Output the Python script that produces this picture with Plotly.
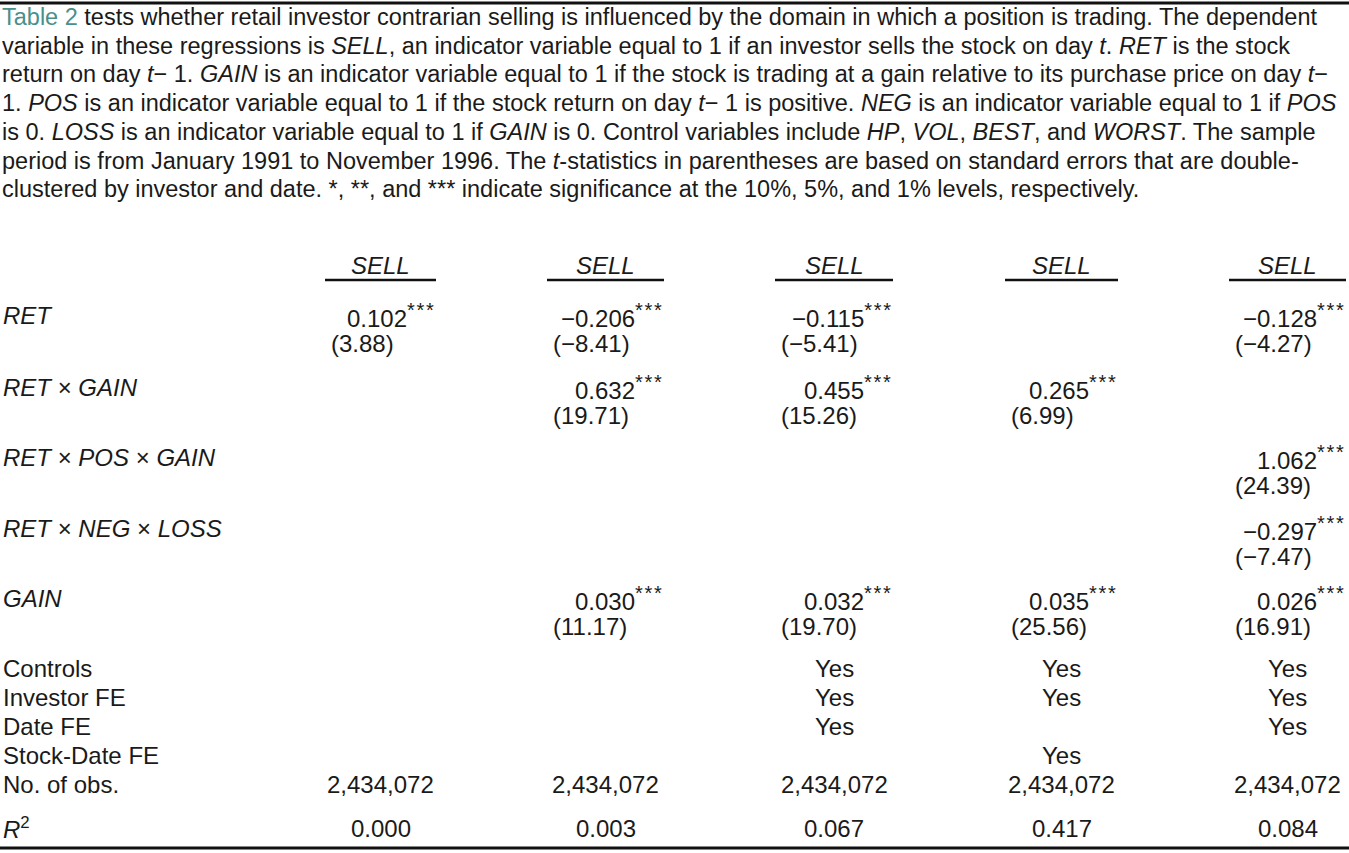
import plotly.graph_objects as go

W, H = 1349, 853
FONT = "Liberation Sans, Arial, sans-serif"
TEXT_COLOR = "#1a1a1a"
MINUS = "\u2212"

caption_lines = [
    "<span style='color:#4b8f8c'>Table 2</span> tests whether retail investor contrarian selling is influenced by the domain in which a position is trading. The dependent",
    "variable in these regressions is <i>SELL</i>, an indicator variable equal to 1 if an investor sells the stock on day <i>t</i>. <i>RET</i> is the stock",
    "return on day <i>t</i>\u2212 1. <i>GAIN</i> is an indicator variable equal to 1 if the stock is trading at a gain relative to its purchase price on day <i>t</i>\u2212",
    "1. <i>POS</i> is an indicator variable equal to 1 if the stock return on day <i>t</i>\u2212 1 is positive. <i>NEG</i> is an indicator variable equal to 1 if <i>POS</i>",
    "is 0. <i>LOSS</i> is an indicator variable equal to 1 if <i>GAIN</i> is 0. Control variables include <i>HP</i>, <i>VOL</i>, <i>BEST</i>, and <i>WORST</i>. The sample",
    "period is from January 1991 to November 1996. The <i>t</i>-statistics in parentheses are based on standard errors that are double-",
    "clustered by investor and date. *, **, and *** indicate significance at the 10%, 5%, and 1% levels, respectively.",
]

models = ["SELL", "SELL", "SELL", "SELL", "SELL"]
row_labels = ["RET", "RET × GAIN", "RET × POS × GAIN", "RET × NEG × LOSS", "GAIN"]

# coefficient / t-stat per row, one list per model column
coef_ret = [0.102, -0.206, -0.115, None, -0.128]
t_ret = [3.88, -8.41, -5.41, None, -4.27]
coef_ret_gain = [None, 0.632, 0.455, 0.265, None]
t_ret_gain = [None, 19.71, 15.26, 6.99, None]
coef_ret_pos_gain = [None, None, None, None, 1.062]
t_ret_pos_gain = [None, None, None, None, 24.39]
coef_ret_neg_loss = [None, None, None, None, -0.297]
t_ret_neg_loss = [None, None, None, None, -7.47]
coef_gain = [None, 0.030, 0.032, 0.035, 0.026]
t_gain = [None, 11.17, 19.70, 25.56, 16.91]
stars = "***"

fe_labels = ["Controls", "Investor FE", "Date FE", "Stock-Date FE"]
controls = [False, False, True, True, True]
investor_fe = [False, False, True, True, True]
date_fe = [False, False, True, False, True]
stock_date_fe = [False, False, False, True, False]
n_obs = [2434072, 2434072, 2434072, 2434072, 2434072]
r_squared = [0.000, 0.003, 0.067, 0.417, 0.084]

coefs = [coef_ret, coef_ret_gain, coef_ret_pos_gain, coef_ret_neg_loss, coef_gain]
tstats = [t_ret, t_ret_gain, t_ret_pos_gain, t_ret_neg_loss, t_gain]
fe_flags = [controls, investor_fe, date_fe, stock_date_fe]

# layout (pixels)
col_left = [325, 547, 775, 1005, 1229]
col_right = [436, 664, 893, 1118, 1346]
caption_y0, caption_step = 17, 28.7
header_y, rule_y = 265, 280
coef_y = [315, 387, 457, 528, 598]
t_gap = 28.5
fe_y = [668, 697, 726, 755]
obs_y, r2_y = 784, 828
label_x = 1


def fmt(v, nd):
    s = f"{abs(v):.{nd}f}"
    return (MINUS + s) if v < 0 else s


def star_sup(s):
    return "<sup><span style='font-size:20px'>" + "\u200a".join(s) + "</span></sup>"


fig = go.Figure()
fig.add_trace(go.Scatter(x=[0, W], y=[0, H], mode="markers",
                         marker=dict(opacity=0), hoverinfo="skip", showlegend=False))

ann = []


def text(x, y, s, anchor="left", size=24):
    ann.append(dict(x=x, y=y, xref="x", yref="y", text=s, showarrow=False,
                    xanchor=anchor, yanchor="middle",
                    font=dict(family=FONT, size=size, color=TEXT_COLOR)))


for i, line in enumerate(caption_lines):
    text(0, caption_y0 + i * caption_step, line, size=23.5)

for j, m in enumerate(models):
    text((col_left[j] + col_right[j]) / 2, header_y, f"<i>{m}</i>", "center")

for r, lab in enumerate(row_labels):
    text(label_x, coef_y[r], "<i>" + lab.replace(" × ", "</i> × <i>") + "</i>")
    for j in range(len(models)):
        c, t = coefs[r][j], tstats[r][j]
        if c is None:
            continue
        text(col_right[j], coef_y[r], fmt(c, 3) + star_sup(stars), "right")
        text(col_left[j] + 4, coef_y[r] + t_gap, "(" + fmt(t, 2) + ")", "left")

for r, lab in enumerate(fe_labels):
    text(label_x, fe_y[r], lab)
    for j, flag in enumerate(fe_flags[r]):
        if flag:
            text((col_left[j] + col_right[j]) / 2, fe_y[r], "Yes", "center")

text(label_x, obs_y, "No. of obs.")
text(label_x, r2_y, "<i>R</i><sup>2</sup>")
for j in range(len(models)):
    cx = (col_left[j] + col_right[j]) / 2
    text(cx, obs_y, f"{n_obs[j]:,}", "center")
    text(cx, r2_y, f"{r_squared[j]:.3f}", "center")

shapes = [
    dict(type="line", xref="x", yref="y", x0=0, x1=W, y0=3, y1=3,
         line=dict(color="#111111", width=3)),
    dict(type="line", xref="x", yref="y", x0=0, x1=W, y0=848, y1=848,
         line=dict(color="#111111", width=3)),
]
for j in range(len(models)):
    shapes.append(dict(type="line", xref="x", yref="y", x0=col_left[j], x1=col_right[j],
                       y0=rule_y, y1=rule_y, line=dict(color="#111111", width=2.5)))

fig.update_layout(
    width=W, height=H,
    margin=dict(l=0, r=0, t=0, b=0),
    paper_bgcolor="white", plot_bgcolor="white",
    xaxis=dict(range=[0, W], visible=False, fixedrange=True),
    yaxis=dict(range=[H, 0], visible=False, fixedrange=True),
    annotations=ann, shapes=shapes,
)

# page body has a default 8px margin; drop it so the figure fills the window
fig.write_html("out.html", config={"displayModeBar": False},
               post_script="document.body.style.margin='0';")
